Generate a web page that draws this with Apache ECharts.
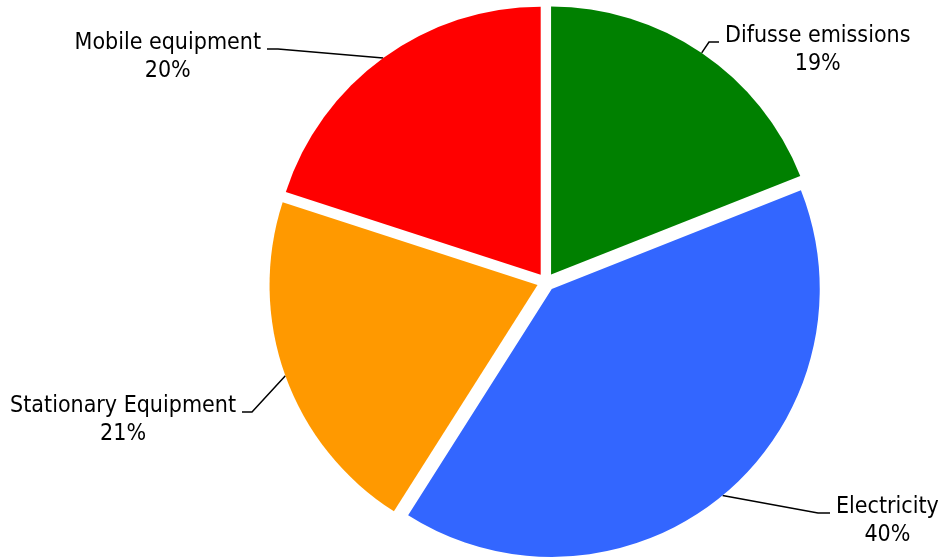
<!DOCTYPE html>
<html><head><meta charset="utf-8">
<script src="https://cdn.jsdelivr.net/npm/echarts@6/dist/echarts.min.js"></script>
<style>html,body{margin:0;padding:0;background:#fff}#chart{width:940px;height:558px}</style>
</head><body><div id="chart"></div>
<script>
const categories = ['Difusse emissions', 'Electricity', 'Stationary Equipment', 'Mobile equipment'];
const shares = [19, 40, 21, 20];
const sliceColors = ['#008000', '#3366FF', '#FF9900', '#FF0000'];

// label placement (layout only): side, text edge x, leader y, leader tail length
const labelPlacement = [
  {side: 'right', edge: 725, lineY: 42, tail: 10},
  {side: 'right', edge: 836, lineY: 513, tail: 12},
  {side: 'left', edge: 236, lineY: 412, tail: 10},
  {side: 'left', edge: 261, lineY: 49, tail: 11}
];
const CENTER = [546, 282];
const RADIUS = 268;
const EXPLODE = 9;
const FONT = '"DejaVu Sans Condensed", "DejaVu Sans", sans-serif';
const total = shares.reduce((a, b) => a + b, 0);
function midAngle(i) {
  let before = 0;
  for (let k = 0; k < i; k++) before += shares[k];
  return (90 - (before + shares[i] / 2) / total * 360) * Math.PI / 180;
}

function labelLayout(p) {
  if (p.dataIndex !== p.seriesIndex || !p.labelLinePoints) return {};
  const s = labelPlacement[p.dataIndex];
  const dir = s.side === 'right' ? 1 : -1;
  const end = s.edge - dir * 6;
  const elbow = end - dir * s.tail;
  const w = p.labelRect.width, h = p.labelRect.height;
  const pts = p.labelLinePoints;
  return {
    x: s.side === 'right' ? s.edge : s.edge - w,
    y: s.lineY + 6 - h / 2,
    align: 'left',
    verticalAlign: 'top',
    labelLinePoints: [pts[0], [elbow, s.lineY], [end, s.lineY]]
  };
}

// one pie per slice, each shifted outward along its mid-angle (exploded pie)
const series = categories.map((cat, si) => {
  const a = midAngle(si);
  return {
    type: 'pie',
    center: [CENTER[0] + Math.cos(a) * EXPLODE, CENTER[1] - Math.sin(a) * EXPLODE],
    radius: RADIUS,
    startAngle: 90,
    clockwise: true,
    avoidLabelOverlap: false,
    silent: true,
    emphasis: {disabled: true},
    itemStyle: {borderWidth: 0},
    label: {
      show: true,
      position: 'outside',
      formatter: '{t|{b}}\n{t|{d}%}',
      color: '#000',
      fontFamily: FONT,
      fontSize: 23,
      rich: {t: {align: 'center', fontFamily: FONT, fontSize: 23, lineHeight: 28, color: '#000'}}
    },
    labelLine: {show: true, lineStyle: {color: '#000', width: 1.5}},
    labelLayout: labelLayout,
    data: categories.map((c, i) => ({
      name: c,
      value: shares[i],
      itemStyle: {color: i === si ? sliceColors[i] : 'rgba(0,0,0,0)'},
      label: {show: i === si},
      labelLine: {show: i === si}
    }))
  };
});

const chart = echarts.init(document.getElementById('chart'), null, {renderer: 'canvas'});
chart.setOption({animation: false, series: series});
</script></body></html>
